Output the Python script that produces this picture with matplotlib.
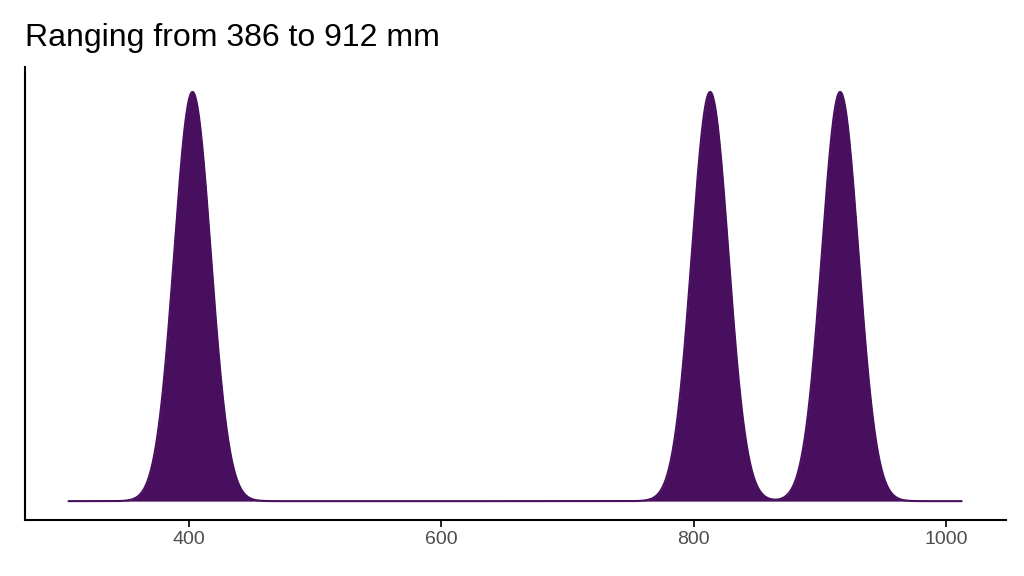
import numpy as np
import matplotlib.pyplot as plt

plt.rcParams["font.family"] = ["Liberation Sans", "DejaVu Sans"]

values = [403, 813, 916]
bandwidth = 14.5
x_min, x_max = 305, 1012
x_ticks = [400, 600, 800, 1000]
title = "Ranging from 386 to 912 mm"

xs = np.linspace(x_min, x_max, 1500)
dens = np.zeros_like(xs)
for v in values:
    dens += np.exp(-0.5 * ((xs - v) / bandwidth) ** 2)
dens /= len(values) * bandwidth * np.sqrt(2 * np.pi)

fig = plt.figure(figsize=(10.24, 5.76), dpi=100)
ax = fig.add_axes([0.024, 0.098, 0.958, 0.785])
ax.fill_between(xs, dens, color="#470F5E", linewidth=0)
ax.plot(xs, dens, color="#470F5E", linewidth=1.5)
ax.set_xlim(270, 1047)
ax.set_ylim(-dens.max() * 0.045, dens.max() * 1.06)
ax.set_xticks(x_ticks)
ax.tick_params(axis="x", labelsize=14, labelcolor="#4d4d4d", length=5, width=1.2)
ax.set_yticks([])
for s in ("top", "right"):
    ax.spines[s].set_visible(False)
for s in ("left", "bottom"):
    ax.spines[s].set_linewidth(1.5)
fig.text(0.024, 0.92, title, fontsize=23)
fig.savefig("out.png")
